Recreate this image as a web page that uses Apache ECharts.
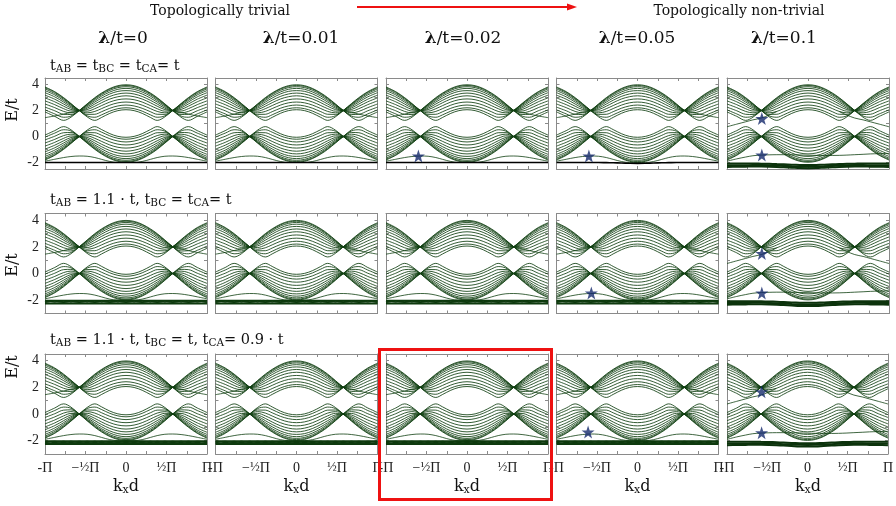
<!DOCTYPE html>
<html><head><meta charset="utf-8">
<script src="https://cdn.jsdelivr.net/npm/echarts@6/dist/echarts.min.js"></script>
<style>html,body{margin:0;padding:0;background:#fff}#c{width:896px;height:506px}</style>
</head><body><div id="c"></div>
<script>
// ---------------- data ----------------
const kGrid = [-1,-0.88,-0.77,-0.68,-0.577,-0.48,-0.385,-0.3,-0.2,-0.1,0,0.1,0.2,0.3,0.385,0.48,0.577,0.68,0.77,0.88,1];
const lambdaLabels = ['0','0.01','0.02','0.05','0.1'];
const xTickLabels = {'-1':'-Π','-0.5':'−{f|½}Π','0':'0','0.5':'{f|½}Π','1':'Π'};
const yTickLabels = [-2,0,2,4];

const upperBands = [
 [1.89,1.55,1.24,1.48,2.00,2.51,2.99,3.35,3.69,3.91,3.98,3.91,3.69,3.35,2.99,2.51,2.00,1.48,1.24,1.55,1.89],
 [2.05,1.74,1.48,1.57,2.00,2.48,2.94,3.30,3.64,3.85,3.92,3.85,3.64,3.30,2.94,2.48,2.00,1.57,1.48,1.74,2.05],
 [2.26,1.98,1.71,1.69,2.00,2.43,2.87,3.22,3.55,3.76,3.83,3.76,3.55,3.22,2.87,2.43,2.00,1.69,1.71,1.98,2.26],
 [2.50,2.22,1.93,1.82,2.00,2.37,2.77,3.11,3.42,3.63,3.70,3.63,3.42,3.11,2.77,2.37,2.00,1.82,1.93,2.22,2.50],
 [2.74,2.45,2.14,1.96,2.00,2.28,2.65,2.96,3.27,3.47,3.53,3.47,3.27,2.96,2.65,2.28,2.00,1.96,2.14,2.45,2.74],
 [2.97,2.67,2.33,2.08,2.00,2.18,2.50,2.79,3.08,3.27,3.34,3.27,3.08,2.79,2.50,2.18,2.00,2.08,2.33,2.67,2.97],
 [3.18,2.87,2.50,2.20,2.00,2.07,2.33,2.60,2.88,3.06,3.13,3.06,2.88,2.60,2.33,2.07,2.00,2.20,2.50,2.87,3.18],
 [3.37,3.05,2.65,2.30,2.00,1.95,2.14,2.38,2.65,2.83,2.89,2.83,2.65,2.38,2.14,1.95,2.00,2.30,2.65,3.05,3.37],
 [3.53,3.20,2.77,2.39,2.00,1.82,1.93,2.15,2.41,2.59,2.65,2.59,2.41,2.15,1.93,1.82,2.00,2.39,2.77,3.20,3.53],
 [3.66,3.31,2.87,2.46,2.00,1.70,1.71,1.91,2.17,2.35,2.42,2.35,2.17,1.91,1.71,1.70,2.00,2.46,2.87,3.31,3.66],
 [3.75,3.40,2.94,2.51,2.00,1.59,1.48,1.67,1.95,2.14,2.21,2.14,1.95,1.67,1.48,1.59,2.00,2.51,2.94,3.40,3.75],
 [3.81,3.45,2.99,2.54,2.00,1.51,1.24,1.47,1.78,1.99,2.06,1.99,1.78,1.47,1.24,1.51,2.00,2.54,2.99,3.45,3.81]
];
const lowerBands = [
 [0.11,0.45,0.76,0.52,0.00,-0.51,-0.99,-1.35,-1.69,-1.91,-1.98,-1.91,-1.69,-1.35,-0.99,-0.51,0.00,0.52,0.76,0.45,0.11],
 [-0.05,0.26,0.52,0.43,0.00,-0.48,-0.94,-1.30,-1.64,-1.85,-1.92,-1.85,-1.64,-1.30,-0.94,-0.48,0.00,0.43,0.52,0.26,-0.05],
 [-0.26,0.02,0.29,0.31,0.00,-0.43,-0.87,-1.22,-1.55,-1.76,-1.83,-1.76,-1.55,-1.22,-0.87,-0.43,0.00,0.31,0.29,0.02,-0.26],
 [-0.50,-0.22,0.07,0.18,0.00,-0.37,-0.77,-1.11,-1.42,-1.63,-1.70,-1.63,-1.42,-1.11,-0.77,-0.37,0.00,0.18,0.07,-0.22,-0.50],
 [-0.74,-0.45,-0.14,0.04,0.00,-0.28,-0.65,-0.96,-1.27,-1.47,-1.53,-1.47,-1.27,-0.96,-0.65,-0.28,0.00,0.04,-0.14,-0.45,-0.74],
 [-0.97,-0.67,-0.33,-0.08,0.00,-0.18,-0.50,-0.79,-1.08,-1.27,-1.34,-1.27,-1.08,-0.79,-0.50,-0.18,0.00,-0.08,-0.33,-0.67,-0.97],
 [-1.18,-0.87,-0.50,-0.20,0.00,-0.07,-0.33,-0.60,-0.88,-1.06,-1.13,-1.06,-0.88,-0.60,-0.33,-0.07,0.00,-0.20,-0.50,-0.87,-1.18],
 [-1.37,-1.05,-0.65,-0.30,0.00,0.05,-0.14,-0.38,-0.65,-0.83,-0.89,-0.83,-0.65,-0.38,-0.14,0.05,0.00,-0.30,-0.65,-1.05,-1.37],
 [-1.53,-1.20,-0.77,-0.39,0.00,0.18,0.07,-0.15,-0.41,-0.59,-0.65,-0.59,-0.41,-0.15,0.07,0.18,0.00,-0.39,-0.77,-1.20,-1.53],
 [-1.66,-1.31,-0.87,-0.46,0.00,0.30,0.29,0.09,-0.17,-0.35,-0.42,-0.35,-0.17,0.09,0.29,0.30,0.00,-0.46,-0.87,-1.31,-1.66],
 [-1.75,-1.40,-0.94,-0.51,0.00,0.41,0.52,0.33,0.05,-0.14,-0.21,-0.14,0.05,0.33,0.52,0.41,0.00,-0.51,-0.94,-1.40,-1.75],
 [-1.81,-1.45,-0.99,-0.54,0.00,0.49,0.76,0.53,0.22,0.01,-0.06,0.01,0.22,0.53,0.76,0.49,0.00,-0.54,-0.99,-1.45,-1.81]
];

const flatBand = [-2,-2,-2,-2,-2,-2,-2,-2,-2,-2,-2,-2,-2,-2,-2,-2,-2,-2,-2,-2,-2];
const flatBandSag = [-2,-2,-2,-2,-2,-2,-2.01,-2.02,-2.04,-2.06,-2.07,-2.06,-2.04,-2.02,-2.01,-2,-2,-2,-2,-2,-2];
const splitBandA = [-2.02,-2.02,-2.02,-2.02,-2.02,-2.02,-2.02,-2.02,-2.02,-2.02,-2.02,-2.02,-2.02,-2.02,-2.02,-2.02,-2.02,-2.02,-2.02,-2.02,-2.02];
const splitBandB = [-2.07,-2.13,-2.07,-2.13,-2.07,-2.13,-2.07,-2.13,-2.07,-2.13,-2.07,-2.13,-2.07,-2.13,-2.07,-2.13,-2.07,-2.13,-2.07,-2.13,-2.07];
const splitBandC = [-2.13,-2.07,-2.13,-2.07,-2.13,-2.07,-2.13,-2.07,-2.13,-2.07,-2.13,-2.07,-2.13,-2.07,-2.13,-2.07,-2.13,-2.07,-2.13,-2.07,-2.13];
const splitBandD = [-2.19,-2.24,-2.19,-2.24,-2.19,-2.24,-2.19,-2.24,-2.19,-2.24,-2.19,-2.24,-2.19,-2.24,-2.19,-2.24,-2.19,-2.24,-2.19,-2.24,-2.19];
const splitBandE = [-2.27,-2.27,-2.27,-2.27,-2.27,-2.27,-2.27,-2.27,-2.27,-2.27,-2.27,-2.27,-2.27,-2.27,-2.27,-2.27,-2.27,-2.27,-2.27,-2.27,-2.27];
const socBandA = [-2.08,-2.08,-2.08,-2.08,-2.09,-2.10,-2.12,-2.14,-2.17,-2.19,-2.20,-2.19,-2.17,-2.14,-2.12,-2.10,-2.09,-2.08,-2.08,-2.08,-2.08];
const socBandB = [-2.22,-2.22,-2.21,-2.20,-2.20,-2.21,-2.23,-2.26,-2.29,-2.31,-2.32,-2.31,-2.29,-2.26,-2.23,-2.21,-2.20,-2.20,-2.21,-2.22,-2.22];
const socBandC = [-2.34,-2.33,-2.32,-2.31,-2.31,-2.32,-2.34,-2.37,-2.40,-2.43,-2.44,-2.43,-2.40,-2.37,-2.34,-2.32,-2.31,-2.31,-2.32,-2.33,-2.34];

const edgeUpper0 = [1.45,1.58,1.72,1.85,2.0,null,null,null,null,null,null,null,null,null,null,null,2.0,1.85,1.72,1.58,1.45];
const edgeLower0 = [-1.9,-1.75,-1.62,-1.54,-1.5,-1.52,-1.62,-1.76,-1.92,-2.0,-2.0,-2.0,-1.92,-1.76,-1.62,-1.52,-1.5,-1.54,-1.62,-1.75,-1.9];
const edgeUpperSocL = [0.75,0.95,1.13,1.28,1.42,1.65,1.92,null,null,null,null,null,null,null,null,null,null,null,null,null,null];
const edgeUpperSocR = [null,null,null,null,null,null,null,null,null,null,null,null,null,null,1.92,1.65,1.42,1.28,1.13,0.95,0.75];
const edgeLowerSoc = [-1.9,-1.72,-1.58,-1.48,-1.43,-1.41,-1.40,-1.40,-1.41,-1.42,-1.44,-1.45,-1.46,-1.46,-1.45,-1.43,-1.40,-1.37,-1.34,-1.32,-1.30];

const starsR1 = [[], [], [[-0.6,-1.5]], [[-0.6,-1.5]], [[-0.57,1.38],[-0.57,-1.43]]];
const starsR2 = [[], [], [], [[-0.57,-1.46]], [[-0.57,1.5],[-0.57,-1.46]]];
const starsR3 = [[], [], [], [[-0.61,-1.35]], [[-0.57,1.67],[-0.57,-1.4]]];

// ---------------- layout ----------------
const colLeft = [45, 215.5, 386, 556.5, 727];
const panelW = 162;
const rowTop = [78, 213.5, 354];
const rowH = [91, 100, 100];
const rowYMin = [-2.5, -3, -3];
const yMaxAll = 4.5;
const serif = "'DejaVu Serif', 'Liberation Serif', serif";
const tickFont = "'Liberation Serif', 'DejaVu Serif', serif";
const axisGray = '#8a8a8a';
const bandColor = '#0f3f10';

const grids = [], xAxes = [], yAxes = [], series = [];
const starPath = 'path://M50,0 L61.8,35.1 L98.1,35.1 L68.8,56.7 L79.4,90.9 L50,70 L20.6,90.9 L31.2,56.7 L1.9,35.1 L38.2,35.1 Z';

function addLine(idx, ys, color, width, z) {
  series.push({
    type: 'line', xAxisIndex: idx * 2, yAxisIndex: idx * 2,
    data: kGrid.map((k, i) => [k, ys[i] === null ? '-' : ys[i]]),
    smooth: 0.35, symbol: 'none', silent: true, animation: false, connectNulls: false,
    lineStyle: { color: color, width: width }, z: z
  });
}

for (let r = 0; r < 3; r++) {
  for (let c = 0; c < 5; c++) {
    const idx = r * 5 + c;
    grids.push({ left: colLeft[c], top: rowTop[r], width: panelW, height: rowH[r], containLabel: false });
    const ymin = rowYMin[r];
    const yTicks = [-2, -1, 0, 1, 2, 3, 4];
    const xBase = {
      type: 'value', gridIndex: idx, min: -1, max: 1,
      axisLine: { show: true, onZero: false, lineStyle: { color: axisGray, width: 1 } },
      axisTick: { show: true, inside: true, length: 3, lineStyle: { color: axisGray }, customValues: [-1, -0.75, -0.5, -0.25, 0, 0.25, 0.5, 0.75, 1] },
      splitLine: { show: false }
    };
    xAxes.push(Object.assign({}, xBase, {
      position: 'bottom',
      axisLabel: {
        show: r === 2, customValues: [-1, -0.5, 0, 0.5, 1], margin: 7,
        fontFamily: tickFont, fontSize: 14, color: '#222',
        formatter: v => xTickLabels[String(v)],
        rich: { f: { fontFamily: tickFont, fontSize: 13, color: '#222' } }
      }
    }));
    xAxes.push(Object.assign({}, xBase, { position: 'top', axisLabel: { show: false } }));
    const yBase = {
      type: 'value', gridIndex: idx, min: ymin, max: yMaxAll,
      axisLine: { show: true, onZero: false, lineStyle: { color: axisGray, width: 1 } },
      axisTick: { show: true, inside: true, length: 3, lineStyle: { color: axisGray }, customValues: yTicks },
      splitLine: { show: false }
    };
    yAxes.push(Object.assign({}, yBase, {
      position: 'left',
      axisLabel: { show: c === 0, customValues: yTickLabels, margin: 6, fontFamily: tickFont, fontSize: 14, color: '#222' }
    }));
    yAxes.push(Object.assign({}, yBase, { position: 'right', axisLabel: { show: false } }));

    upperBands.forEach(b => addLine(idx, b, bandColor, 0.85, 2));
    lowerBands.forEach(b => addLine(idx, b, bandColor, 0.85, 2));

    if (c < 4) {
      addLine(idx, edgeUpper0, bandColor, 0.8, 3);
      addLine(idx, edgeLower0, bandColor, 0.8, 3);
    } else {
      addLine(idx, edgeUpperSocL, bandColor, 0.8, 3);
      addLine(idx, edgeUpperSocR, bandColor, 0.8, 3);
      addLine(idx, edgeLowerSoc, bandColor, 0.8, 3);
    }

    if (c === 4) {
      [socBandA, socBandB, socBandC].forEach(b => addLine(idx, b, '#0c330c', 2.0, 4));
    } else if (r === 0) {
      addLine(idx, c === 3 ? flatBandSag : flatBand, '#000000', 1.6, 4);
    } else {
      [splitBandA, splitBandB, splitBandC, splitBandD, splitBandE].forEach(b => addLine(idx, b, '#0e3a0e', 1.5, 4));
    }

    const st = [starsR1, starsR2, starsR3][r][c];
    if (st.length) {
      series.push({
        type: 'scatter', xAxisIndex: idx * 2, yAxisIndex: idx * 2, data: st,
        symbol: starPath, symbolSize: 13, silent: true, animation: false,
        itemStyle: { color: '#14296b' }, z: 10
      });
    }
  }
}

// ---------------- texts ----------------
const graphics = [];
function txt(x, y, text, size, opts) {
  const o = Object.assign({ align: 'center', verticalAlign: 'middle', rich: null, rotation: 0, weight: 'normal', font: serif }, opts || {});
  const style = {
    text: text, fontFamily: o.font, fontSize: size, fontWeight: o.weight, fill: '#111',
    align: o.align, verticalAlign: o.verticalAlign, textAlign: o.align, textVerticalAlign: o.verticalAlign
  };
  if (o.rich) style.rich = o.rich;
  graphics.push({ type: 'text', x: x, y: y, rotation: o.rotation, style: style, silent: true });
}
txt(220, 11, 'Topologically trivial', 14);
txt(739, 11, 'Topologically non-trivial', 14);
graphics.push({ type: 'line', shape: { x1: 357, y1: 7, x2: 569, y2: 7 }, style: { stroke: '#ee1111', lineWidth: 2.2 }, silent: true });
graphics.push({ type: 'polygon', shape: { points: [[577, 7], [567, 3.5], [567, 10.5]] }, style: { fill: '#ee1111' }, silent: true });

const headerX = [123, 301, 463, 637, 784];
const lamRich = { l: { fontFamily: serif, fontSize: 17, fontWeight: 'bold', fill: '#111' }, n: { fontFamily: serif, fontSize: 17, fill: '#111' } };
lambdaLabels.forEach((lab, i) => txt(headerX[i], 39, '{l|λ}{n|/t=' + lab + '}', 17, { rich: lamRich }));

const rowRich = {
  n: { fontFamily: serif, fontSize: 14.5, fill: '#111', lineHeight: 18, verticalAlign: 'middle' },
  s: { fontFamily: serif, fontSize: 10.5, fill: '#111', lineHeight: 12, verticalAlign: 'bottom' }
};
txt(50, 66, '{n|t}{s|AB}{n| = t}{s|BC}{n| = t}{s|CA}{n|= t}', 14.5, { align: 'left', rich: rowRich });
txt(50, 200, '{n|t}{s|AB}{n| = 1.1 · t, t}{s|BC}{n| = t}{s|CA}{n|= t}', 14.5, { align: 'left', rich: rowRich });
txt(50, 340, '{n|t}{s|AB}{n| = 1.1 · t, t}{s|BC}{n| = t, t}{s|CA}{n|= 0.9 · t}', 14.5, { align: 'left', rich: rowRich });

const eY = [110, 265, 367];
eY.forEach(y => txt(13, y, 'E/t', 16, { rotation: Math.PI / 2 }));

const kRich = {
  n: { fontFamily: serif, fontSize: 16, fill: '#111', lineHeight: 18, verticalAlign: 'middle' },
  s: { fontFamily: serif, fontSize: 11, fill: '#111', lineHeight: 12, verticalAlign: 'bottom' }
};
colLeft.forEach(l => txt(l + panelW / 2, 487, '{n|k}{s|x}{n|d}', 16, { rich: kRich }));

graphics.push({ type: 'rect', shape: { x: 379.5, y: 349.5, width: 172, height: 150 }, style: { fill: 'none', stroke: '#ee1111', lineWidth: 3 }, silent: true, z: 100 });

const chart = echarts.init(document.getElementById('c'), null, { renderer: 'canvas', width: 896, height: 506 });
chart.setOption({
  animation: false,
  backgroundColor: '#ffffff',
  grid: grids, xAxis: xAxes, yAxis: yAxes, series: series,
  graphic: { elements: graphics }
});
</script></body></html>
